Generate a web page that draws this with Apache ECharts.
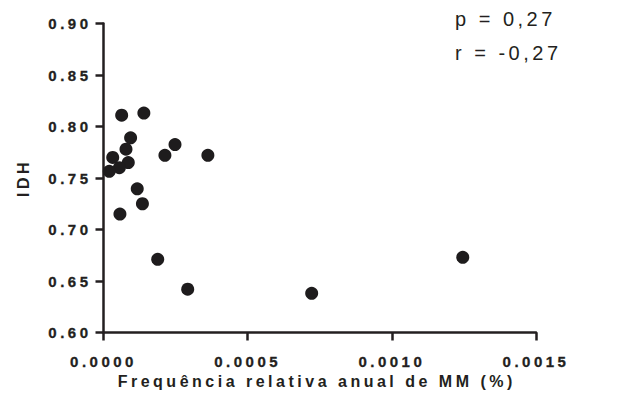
<!DOCTYPE html>
<html>
<head>
<meta charset="utf-8">
<script src="https://cdn.jsdelivr.net/npm/echarts@6/dist/echarts.min.js"></script>
<style>
  html, body { margin: 0; padding: 0; background: #fff; }
  #chart { width: 619px; height: 409px; }
  #chart text { letter-spacing: 3.5px; }
</style>
</head>
<body>
<div id="chart"></div>
<script>
// Data
const freqValues = [0.000063, 0.000140, 0.000094, 0.000248, 0.000213, 0.000078, 0.000032, 0.000086, 0.000055,
                    0.000020, 0.000117, 0.000135, 0.000057, 0.000362, 0.000188, 0.000292, 0.000722, 0.001246];
const idhValues  = [0.811, 0.813, 0.789, 0.7825, 0.772, 0.778, 0.770, 0.765, 0.760,
                    0.7565, 0.7395, 0.725, 0.715, 0.772, 0.671, 0.642, 0.638, 0.673];
const xTicks = { min: 0, max: 0.0015, step: 0.0005 };
const yTicks = { min: 0.60, max: 0.90, step: 0.05 };
const xTitle = 'Frequência relativa anual de MM (%)';
const yTitle = 'IDH';
const statLines = ['p = 0,27', 'r = -0,27'];

const points = freqValues.map((x, i) => [x, idhValues[i]]);
const ink = '#231f20';
const font = 'Liberation Sans, Arial, sans-serif';

const chart = echarts.init(document.getElementById('chart'), null, { renderer: 'svg' });
chart.setOption({
  animation: false,
  backgroundColor: '#fff',
  grid: { left: 103.5, right: 83, top: 23.5, bottom: 76.5, containLabel: false },
  xAxis: {
    type: 'value', min: xTicks.min, max: xTicks.max, interval: xTicks.step,
    name: xTitle, nameLocation: 'middle', nameGap: 37,
    nameTextStyle: { color: ink, fontWeight: 'bold', fontSize: 16, fontFamily: font, padding: [0, 6, 0, 0] },
    axisLine: { show: true, onZero: false, lineStyle: { color: ink, width: 2.5 } },
    axisTick: { show: true, length: 8, lineStyle: { color: ink, width: 2.5 } },
    axisLabel: { color: ink, fontWeight: 'bold', fontSize: 15, fontFamily: font, margin: 21,
                 textBorderColor: ink, textBorderWidth: 0.3,
                 formatter: v => v.toFixed(4) },
    splitLine: { show: false }
  },
  yAxis: {
    type: 'value', min: yTicks.min, max: yTicks.max, interval: yTicks.step,
    name: yTitle, nameLocation: 'middle', nameGap: 72, nameRotate: 90,
    nameTextStyle: { color: ink, fontWeight: 'bold', fontSize: 16, fontFamily: font },
    axisLine: { show: true, onZero: false, lineStyle: { color: ink, width: 2.5 } },
    axisTick: { show: true, length: 8, lineStyle: { color: ink, width: 2.5 } },
    axisLabel: { color: ink, fontWeight: 'bold', fontSize: 15, fontFamily: font, margin: 12,
                 textBorderColor: ink, textBorderWidth: 0.3,
                 formatter: v => v.toFixed(2) },
    splitLine: { show: false }
  },
  graphic: statLines.map((t, i) => ({
    type: 'text', left: 455, top: 9 + i * 34,
    style: { text: t, fill: ink, font: '20px ' + font }
  })),
  series: [{
    type: 'scatter',
    data: points,
    symbol: 'circle',
    symbolSize: 13,
    itemStyle: { color: '#1e1c1d', opacity: 1 }
  }]
});
</script>
</body>
</html>
